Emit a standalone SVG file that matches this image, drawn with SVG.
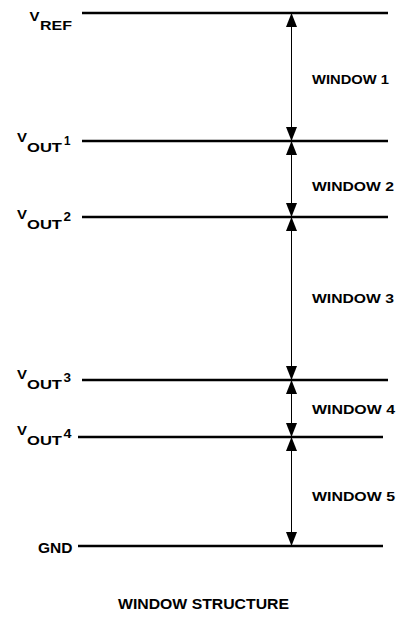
<svg xmlns="http://www.w3.org/2000/svg" width="407" height="620" viewBox="0 0 407 620">
<style>
text{font-family:"Liberation Sans",Arial,sans-serif;font-weight:bold;fill:#000}
.lvl{stroke:#000;stroke-width:2.5;fill:none}
.dim{stroke:#000;stroke-width:1;fill:none;marker-start:url(#ah);marker-end:url(#ah)}
.v{font-size:12.5px}
.sub{font-size:13px}
.sup{font-size:12px}
.win{font-size:13px}
</style>
<defs>
<marker id="ah" markerUnits="userSpaceOnUse" markerWidth="14" markerHeight="11" refX="14" refY="5.5" orient="auto-start-reverse" viewBox="0 0 14 11">
<path d="M0,0 L14,5.5 L0,11 z" fill="#000"/>
</marker>
</defs>
<rect width="407" height="620" fill="#fff"/>
<g id="levels">
<g id="vref"><line class="lvl" x1="82" y1="13" x2="388" y2="13"/>
<text class="v" x="29.5" y="20.5" textLength="10" lengthAdjust="spacingAndGlyphs">V</text>
<text x="40" y="29.5" style="font-size:12px" textLength="32" lengthAdjust="spacingAndGlyphs">REF</text></g>
<g id="vout1"><line class="lvl" x1="82" y1="141" x2="388" y2="141"/>
<text class="v" x="17" y="142" textLength="10" lengthAdjust="spacingAndGlyphs">V</text>
<text class="sub" x="27" y="152" textLength="35" lengthAdjust="spacingAndGlyphs">OUT</text>
<text class="sup" x="64" y="145" textLength="6.5" lengthAdjust="spacingAndGlyphs">1</text></g>
<g id="vout2"><line class="lvl" x1="82" y1="217" x2="388" y2="217"/>
<text class="v" x="17" y="218.5" textLength="10" lengthAdjust="spacingAndGlyphs">V</text>
<text class="sub" x="27" y="228.5" textLength="35" lengthAdjust="spacingAndGlyphs">OUT</text>
<text class="sup" x="63.5" y="220.5" textLength="7.5" lengthAdjust="spacingAndGlyphs">2</text></g>
<g id="vout3"><line class="lvl" x1="82" y1="380" x2="388" y2="380"/>
<text class="v" x="17" y="378.5" textLength="10" lengthAdjust="spacingAndGlyphs">V</text>
<text class="sub" x="27" y="388.5" textLength="35" lengthAdjust="spacingAndGlyphs">OUT</text>
<text class="sup" x="63.5" y="381.5" textLength="7.5" lengthAdjust="spacingAndGlyphs">3</text></g>
<g id="vout4"><line class="lvl" x1="78" y1="437" x2="383" y2="437"/>
<text class="v" x="17" y="434.5" textLength="10" lengthAdjust="spacingAndGlyphs">V</text>
<text class="sub" x="27" y="445" textLength="35" lengthAdjust="spacingAndGlyphs">OUT</text>
<text class="sup" x="63.5" y="437.5" textLength="8" lengthAdjust="spacingAndGlyphs">4</text></g>
<g id="gnd"><line class="lvl" x1="78" y1="546" x2="383" y2="546"/>
<text x="38" y="553" style="font-size:14px" textLength="34.5" lengthAdjust="spacingAndGlyphs">GND</text></g>
</g>
<g id="connectors">
<line class="dim" x1="291.5" y1="13" x2="291.5" y2="141"/>
<line class="dim" x1="291.5" y1="141" x2="291.5" y2="217"/>
<line class="dim" x1="291.5" y1="217" x2="291.5" y2="380"/>
<line class="dim" x1="291.5" y1="380" x2="291.5" y2="437"/>
<line class="dim" x1="291.5" y1="437" x2="291.5" y2="546"/>
</g>
<g id="windows">
<text id="w1" class="win" x="312" y="83.5" textLength="77" lengthAdjust="spacingAndGlyphs">WINDOW 1</text>
<text id="w2" class="win" x="312" y="191" textLength="82" lengthAdjust="spacingAndGlyphs">WINDOW 2</text>
<text id="w3" class="win" x="312" y="303" textLength="82" lengthAdjust="spacingAndGlyphs">WINDOW 3</text>
<text id="w4" class="win" x="312" y="413.5" textLength="83" lengthAdjust="spacingAndGlyphs">WINDOW 4</text>
<text id="w5" class="win" x="312" y="500.5" textLength="83" lengthAdjust="spacingAndGlyphs">WINDOW 5</text>
</g>
<text id="title" x="118" y="609" style="font-size:15px" textLength="171" lengthAdjust="spacingAndGlyphs">WINDOW STRUCTURE</text>
</svg>
